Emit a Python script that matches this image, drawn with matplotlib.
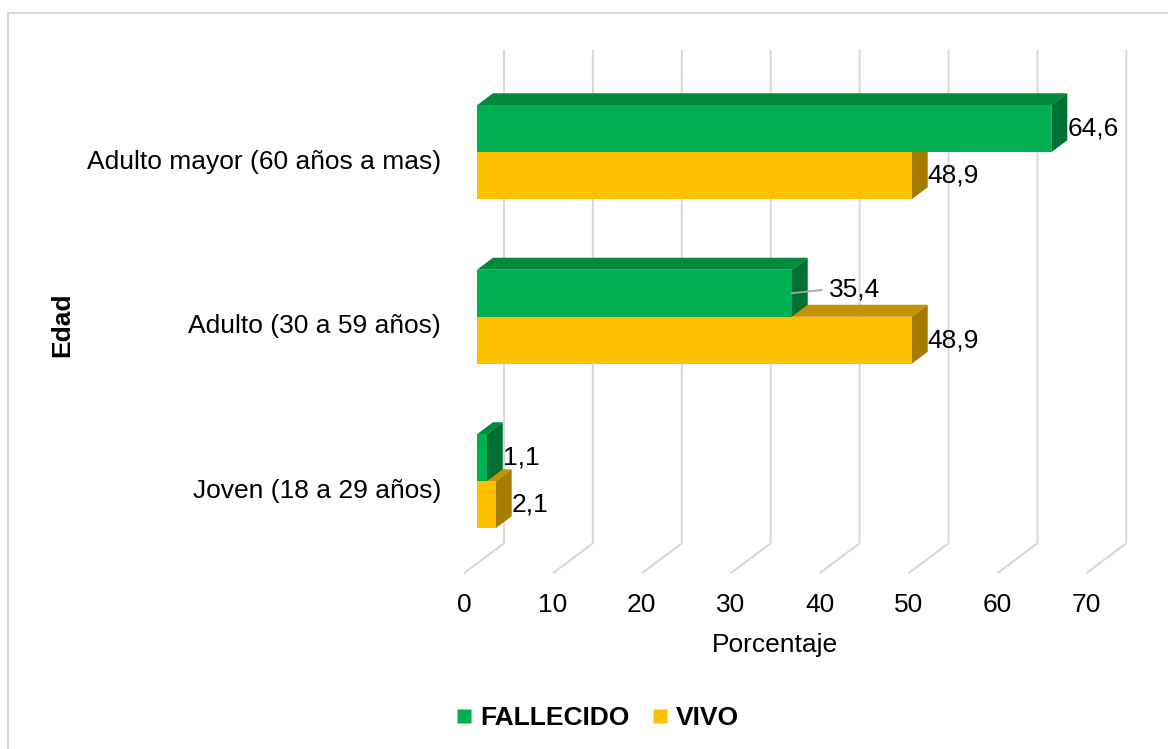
import numpy as np
import matplotlib
matplotlib.use('Agg')
import matplotlib.pyplot as plt
from matplotlib.patches import Polygon, Rectangle
from matplotlib.lines import Line2D

# Datos del grafico
categorias = ['Joven (18 a 29 años)', 'Adulto (30 a 59 años)', 'Adulto mayor (60 años a mas)']
fallecido = [1.1, 35.4, 64.6]
vivo = [2.1, 48.9, 48.9]
ticks_x = [0, 10, 20, 30, 40, 50, 60, 70]
series = ['FALLECIDO', 'VIVO']

plt.rcParams['font.family'] = ['Liberation Sans', 'DejaVu Sans']
FS = 19

W, H = 1168, 749
fig = plt.figure(figsize=(W / 100, H / 100), dpi=100)

# escala del grafico en pixeles
PX_X = 8.89       # pixeles por 1 %
PX_Y = 164.5      # pixeles por categoria
X0_PX = 464       # x=0 en el frente del piso
Y0_PX = 491       # categoria 0 (desde arriba)
XMIN, XMAX = -6, 78
YMIN, YMAX = -0.75, 2.8

ax = fig.add_axes([(X0_PX + XMIN * PX_X) / W,
                   (H - (Y0_PX - YMIN * PX_Y)) / H,
                   (XMAX - XMIN) * PX_X / W,
                   (YMAX - YMIN) * PX_Y / H])
ax.set_xlim(XMIN, XMAX)
ax.set_ylim(YMIN, YMAX)
ax.axis('off')

# profundidad 3D
DXF = 40 / PX_X
DYF = 30 / PX_Y
D0, D1 = 0.325, 0.725
BH = 47 / PX_Y
PISO = -0.5
TECHO = 2.5

GRID = '#d9d9d9'
for t in ticks_x:
    ax.plot([t, t + DXF, t + DXF], [PISO, PISO + DYF, TECHO + DYF],
            color=GRID, lw=1.5, zorder=1, solid_capstyle='butt')
    ax.annotate(str(t), (t, PISO), xytext=(0, -32 * 0.72), textcoords='offset points',
                ha='center', va='center', fontsize=FS, color='black')

colores = {
    'FALLECIDO': ('#00b050', '#008a3e', '#007033'),
    'VIVO': ('#ffc000', '#c49300', '#a67c00'),
}


def barra(v, y_base, y_top, cols, z):
    fr, tp, sd = cols
    x0f, x1f = D0 * DXF, v + D0 * DXF
    x0b, x1b = D1 * DXF, v + D1 * DXF
    yb_f, yt_f = y_base + D0 * DYF, y_top + D0 * DYF
    yb_b, yt_b = y_base + D1 * DYF, y_top + D1 * DYF
    ax.add_patch(Polygon([(x0f, yt_f), (x1f, yt_f), (x1b, yt_b), (x0b, yt_b)],
                         closed=True, fc=tp, ec='none', zorder=z))
    ax.add_patch(Polygon([(x1f, yb_f), (x1f, yt_f), (x1b, yt_b), (x1b, yb_b)],
                         closed=True, fc=sd, ec='none', zorder=z))
    ax.add_patch(Polygon([(x0f, yb_f), (x1f, yb_f), (x1f, yt_f), (x0f, yt_f)],
                         closed=True, fc=fr, ec='none', zorder=z))


def etiqueta(v):
    return f'{v:.1f}'.replace('.', ',')


for i, cat in enumerate(categorias):
    barra(vivo[i], i - BH, i, colores['VIVO'], 3 + i * 2)
    barra(fallecido[i], i, i + BH, colores['FALLECIDO'], 4 + i * 2)

    ax.text(-2.6, i, cat, ha='right', va='center', fontsize=FS, color='black')

    yc_v = i - BH / 2 + D0 * DYF
    ax.text(vivo[i] + D1 * DXF, yc_v, etiqueta(vivo[i]), ha='left', va='center',
            fontsize=FS, color='black', zorder=20)

    yc_f = i + BH / 2 + D0 * DYF
    if fallecido[i] == 35.4:
        ax.annotate(etiqueta(fallecido[i]), (fallecido[i] + D0 * DXF, yc_f),
                    xytext=(37 * 0.72, 4 * 0.72), textcoords='offset points',
                    ha='left', va='center', fontsize=FS, color='black', zorder=20,
                    arrowprops=dict(arrowstyle='-', color='#a6a6a6', lw=1.3,
                                    shrinkA=3, shrinkB=0, relpos=(0, 0.5)))
    else:
        ax.text(fallecido[i] + D1 * DXF, yc_f, etiqueta(fallecido[i]), ha='left',
                va='center', fontsize=FS, color='black', zorder=20)

ax.text(35, PISO - 72 / PX_Y, 'Porcentaje', ha='center', va='center', fontsize=FS)
fig.text(62 / W, 1 - 325 / H, 'Edad', rotation=90, ha='center', va='center',
         fontsize=FS, fontweight='bold')

handles = [Line2D([], [], marker='s', ls='none', markersize=10,
                  markerfacecolor=colores[s][0], markeredgecolor='none') for s in series]
fig.legend(handles, series, loc='center', bbox_to_anchor=(596 / W, 1 - 718 / H),
           ncol=2, frameon=False, handletextpad=0.2, columnspacing=0.75,
           handlelength=0.8, prop={'weight': 'bold', 'size': FS})

fig.add_artist(Rectangle((8 / W, -0.05), 1.1, 1 - 13 / H + 0.05, transform=fig.transFigure,
                         fill=False, ec=GRID, lw=1.5))

fig.savefig('out.png', dpi=100)
